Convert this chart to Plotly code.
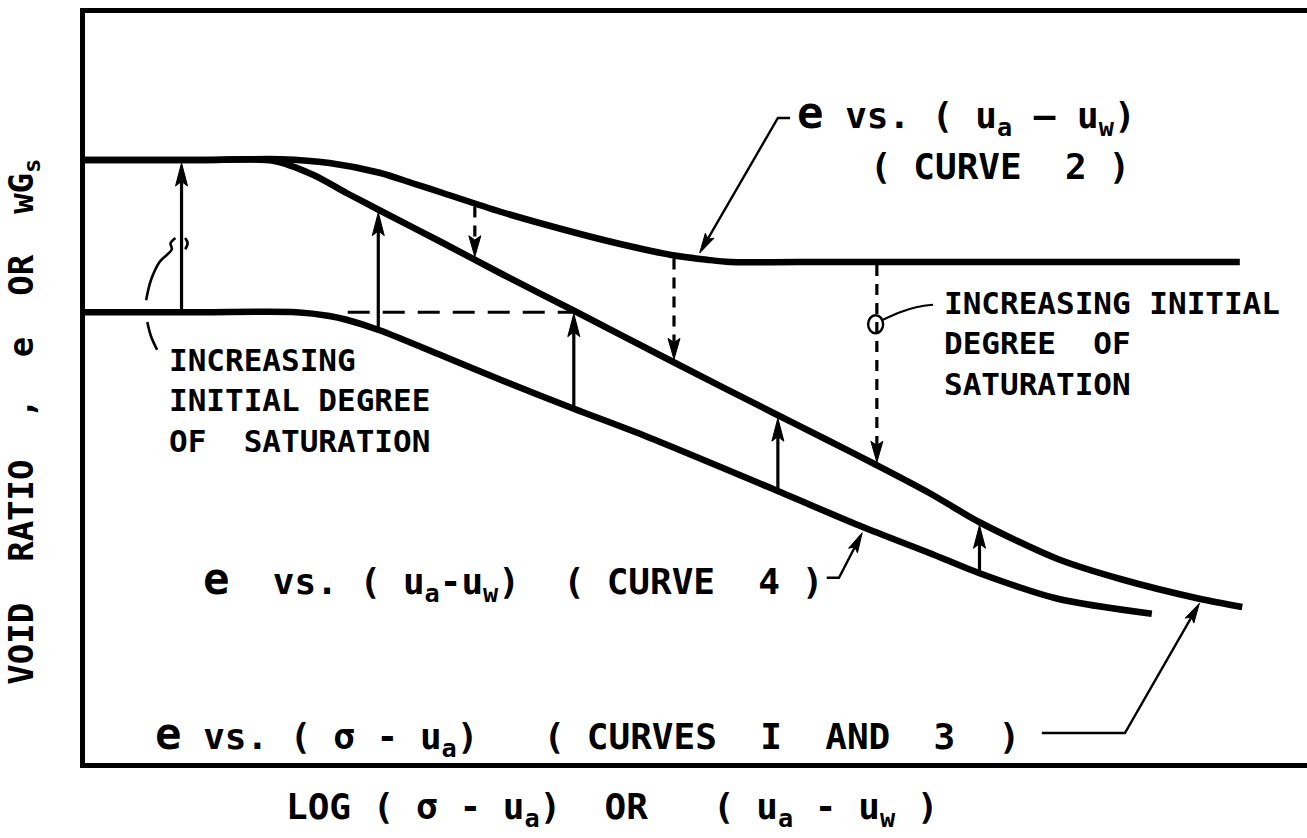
import numpy as np
import plotly.graph_objects as go

# ---- schematic curves (x: log stress or suction, y: void ratio), arbitrary units 0-10 ----
curve2_x = [0.00, 0.94, 1.60, 2.00, 2.41, 2.68, 2.91, 3.40, 3.99, 4.38, 4.81, 5.09, 5.28, 5.85, 9.45]
curve2_y = [8.04, 8.04, 8.05, 8.00, 7.87, 7.73, 7.61, 7.35, 7.08, 6.92, 6.77, 6.71, 6.68, 6.68, 6.68]

curve13_x = [0.00, 0.94, 1.54, 1.87, 2.14, 2.41, 2.91, 3.40, 3.99, 4.81, 5.63, 6.07, 6.48, 6.91,
             7.32, 7.96, 8.48, 9.12, 9.47]
curve13_y = [8.04, 8.04, 8.03, 7.84, 7.60, 7.37, 6.95, 6.53, 6.04, 5.35, 4.67, 4.31, 3.97, 3.60,
             3.21, 2.72, 2.45, 2.19, 2.08]

curve4_x = [0.00, 0.94, 1.73, 2.00, 2.14, 2.41, 2.91, 3.40, 3.99, 4.60, 5.65, 6.36, 6.91, 7.32, 7.96, 8.73]
curve4_y = [6.01, 6.01, 6.01, 5.96, 5.91, 5.77, 5.44, 5.11, 4.73, 4.35, 3.64, 3.15, 2.80, 2.53, 2.19, 1.99]

# arrows: solid ones go from curve 4 up to curves 1/3 (first one up to curve 2),
# dashed ones go from curve 2 down to curves 1/3
up_arrow_x = [0.79, 2.40, 4.00, 5.67, 7.32]
down_arrow_x = [3.19, 4.82, 6.48]
dash_level_x0 = 2.15          # start of the horizontal dashed reference line

# leader lines for the labels (label end -> arrow tip)
lead2_x, lead2_y = [5.77, 5.67, 5.03], [8.60, 8.60, 6.80]
lead4_x, lead4_y = [6.07, 6.17, 6.36], [2.47, 2.47, 3.07]
lead13_x, lead13_y = [7.83, 8.51, 9.12], [0.40, 0.40, 2.13]

# curly leader on the left (cut mark around the first arrow)
arcL_x = [0.74, 0.70, 0.71, 0.61, 0.54, 0.50]
arcL_y = [7.00, 6.93, 6.85, 6.68, 6.44, 6.17]
arcL2_x = [0.51, 0.54, 0.59]
arcL2_y = [5.88, 5.69, 5.51]
markR_x = [0.82, 0.84, 0.82]
markR_y = [7.00, 6.93, 6.85]

# leader on the right from the cut mark on the dashed arrow
lead_r_x = [6.53, 6.67, 6.81, 6.94]
lead_r_y = [5.91, 6.01, 6.08, 6.11]
cut_mark = (6.47, 5.85)

# ---- page geometry ----
W, H = 1307, 838
ML, MR, MT, MB = 85, 0, 13, 75
SX = (W - ML - MR) / 10.0     # pixels per x unit
SY = (H - MT - MB) / 10.0     # pixels per y unit
FONT = "DejaVu Sans Mono"

fig = go.Figure()


def add_line(x, y, width, dash=None, shape="linear", smoothing=1.0):
    fig.add_trace(go.Scatter(
        x=x, y=y, mode="lines", hoverinfo="skip", showlegend=False,
        line=dict(color="black", width=width, dash=dash, shape=shape, smoothing=smoothing)))


head_x, head_y = [], []


def add_head(tail, tip, length=22, half=5.5):
    """Narrow barbed arrowhead; returns the point where the shaft should stop."""
    dx = (tip[0] - tail[0]) * SX
    dy = (tip[1] - tail[1]) * SY
    n = np.hypot(dx, dy)
    ux, uy = dx / n, dy / n
    tx, ty = tip[0] * SX, tip[1] * SY
    bx, by = tx - ux * length, ty - uy * length
    nx_, ny_ = tx - ux * length * 0.8, ty - uy * length * 0.8
    pts = [(tx, ty), (bx - uy * half, by + ux * half), (nx_, ny_),
           (bx + uy * half, by - ux * half), (tx, ty)]
    for px_, py_ in pts:
        head_x.append(px_ / SX)
        head_y.append(py_ / SY)
    head_x.append(None)
    head_y.append(None)
    return (nx_ / SX, ny_ / SY)


# main curves
for cx, cy in [(curve2_x, curve2_y), (curve13_x, curve13_y), (curve4_x, curve4_y)]:
    add_line(cx, cy, 6.5, shape="spline", smoothing=0.8)

half_curve = 3.0 / SY

# solid arrows
for i, xa in enumerate(up_arrow_x):
    y0 = np.interp(xa, curve4_x, curve4_y)
    top_x, top_y = (curve2_x, curve2_y) if i == 0 else (curve13_x, curve13_y)
    y1 = np.interp(xa, top_x, top_y) - half_curve
    stop = add_head((xa, y0), (xa, y1), length=23, half=6)
    add_line([xa, stop[0]], [y0, stop[1]], 3.2)

# dashed arrows
for xa in down_arrow_x:
    y0 = np.interp(xa, curve2_x, curve2_y) - half_curve
    y1 = np.interp(xa, curve13_x, curve13_y) + half_curve
    stop = add_head((xa, y0), (xa, y1), length=21, half=6)
    add_line([xa, xa], [y0, stop[1]], 3.2, dash="11px,8px")

# horizontal dashed line at the initial level of curve 4
level = curve4_y[0]
x_end = np.interp(level, curve13_y[::-1], curve13_x[::-1])
add_line([dash_level_x0, x_end], [level, level], 3.2, dash="22px,13px")

# label leaders with arrowheads
for lx, ly in [(lead2_x, lead2_y), (lead4_x, lead4_y), (lead13_x, lead13_y)]:
    stop = add_head((lx[-2], ly[-2]), (lx[-1], ly[-1]), length=20, half=5)
    add_line(lx[:-1] + [stop[0]], ly[:-1] + [stop[1]], 2.4)

# left cut mark and curly leader
add_line(arcL_x, arcL_y, 2.6, shape="spline")
add_line(arcL2_x, arcL2_y, 2.6, shape="spline")
add_line(markR_x, markR_y, 2.6, shape="spline")
# right curly leader
add_line(lead_r_x, lead_r_y, 2.2, shape="spline")

fig.add_trace(go.Scatter(x=head_x, y=head_y, mode="lines", fill="toself",
                         fillcolor="black", line=dict(color="black", width=1),
                         hoverinfo="skip", showlegend=False))

# small cut mark on the dashed arrow
rx, ry = 7.5 / SX, 9.0 / SY
fig.add_shape(type="circle", xref="x", yref="y",
              x0=cut_mark[0] - rx, x1=cut_mark[0] + rx,
              y0=cut_mark[1] - ry, y1=cut_mark[1] + ry,
              line=dict(color="black", width=2.4))

NB = "\u00a0"
E = "<span style='font-size:44px'>e</span>"


def label(x, y, text, size, xref="x", yref="y", xanchor="left", angle=0, align="left"):
    fig.add_annotation(x=x, y=y, xref=xref, yref=yref, text=text, showarrow=False,
                       xanchor=xanchor, yanchor="middle", textangle=angle, align=align,
                       font=dict(family=FONT, size=size, color="black", weight="bold"))


label(5.81, 8.65, E + NB + "vs." + NB + "(" + NB + "u<sub>a</sub>" + NB + "–" + NB + "u<sub>w</sub>)", 36)
label(6.41, 7.96, "(" + NB + "CURVE" + NB * 2 + "2" + NB + ")", 36)
label(7.01, 5.60, "INCREASING INITIAL<br>DEGREE" + NB * 2 + "OF<br>SATURATION", 31)
label(0.67, 4.84, "INCREASING<br>INITIAL DEGREE<br>OF" + NB * 2 + "SATURATION", 31)
label(0.95, 2.44, E + NB * 2 + "vs." + NB + "(" + NB + "u<sub>a</sub>-u<sub>w</sub>)" + NB * 2
      + "(" + NB + "CURVE" + NB * 2 + "4" + NB + ")", 36)
label(0.56, 0.37, E + NB + "vs." + NB + "(" + NB + "σ" + NB + "-" + NB + "u<sub>a</sub>)" + NB * 3
      + "(" + NB + "CURVES" + NB * 2 + "I" + NB * 2 + "AND" + NB * 2 + "3" + NB * 2 + ")", 36)

# axis titles
label(0.431, -0.062, "LOG" + NB + "(" + NB + "σ" + NB + "-" + NB + "u<sub>a</sub>)" + NB * 2 + "OR"
      + NB * 3 + "(" + NB + "u<sub>a</sub>" + NB + "-" + NB + "u<sub>w</sub>" + NB + ")", 36,
      xref="paper", yref="paper", xanchor="center")
label(-0.050, 0.455, "VOID" + NB * 2 + "RATIO" + NB * 2 + "," + NB * 2 + "e" + NB * 2 + "OR" + NB * 2
      + "wG<sub>s</sub>", 34, xref="paper", yref="paper", xanchor="center", angle=-90)

fig.update_layout(
    width=W, height=H,
    margin=dict(l=ML, r=MR, t=MT, b=MB),
    paper_bgcolor="white", plot_bgcolor="white",
    xaxis=dict(range=[0, 10], showgrid=False, zeroline=False, showticklabels=False, ticks="",
               showline=True, linewidth=5, linecolor="black", mirror=True, fixedrange=True),
    yaxis=dict(range=[0, 10], showgrid=False, zeroline=False, showticklabels=False, ticks="",
               showline=True, linewidth=5, linecolor="black", mirror=False, fixedrange=True),
)

fig.write_html("out.html")
